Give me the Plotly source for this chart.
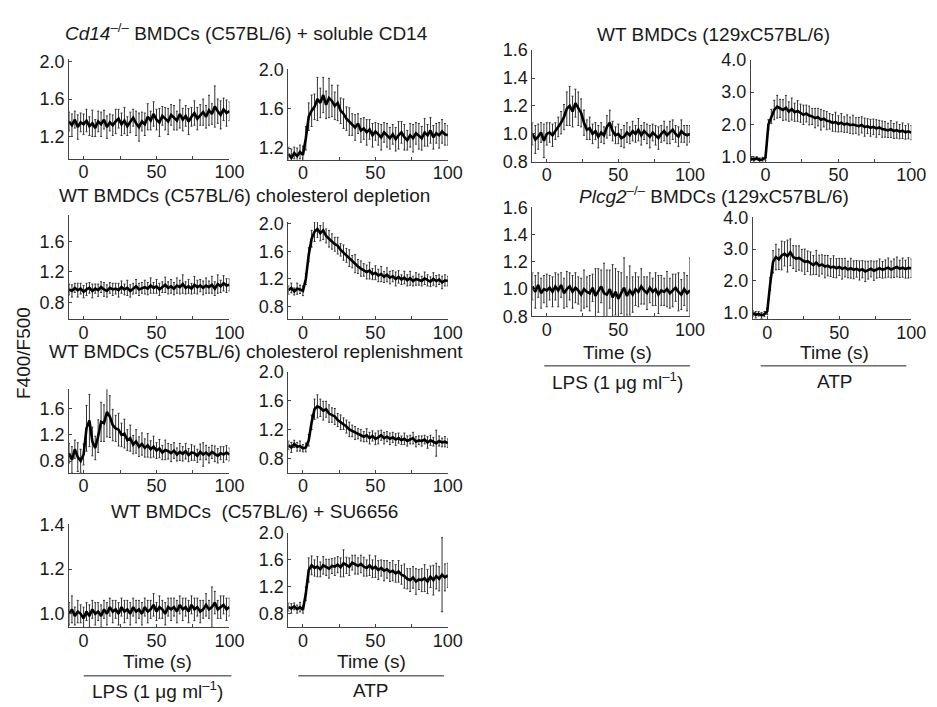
import plotly.graph_objects as go

W, H = 937, 707

# time axis (s)
time_s = list(range(-10, 101, 2))

# ---- mean F400/F500 traces ----
cd14_lps = [1.36,1.32,1.38,1.30,1.35,1.33,
            1.37,1.31,1.34,1.29,1.36,1.33,1.38,1.30,1.35,1.32,
            1.36,1.39,1.33,1.37,1.31,1.35,1.40,1.34,1.30,1.36,
            1.33,1.41,1.37,1.44,1.38,1.35,1.42,1.39,1.36,1.43,
            1.40,1.37,1.44,1.38,1.42,1.36,1.41,1.45,1.39,1.43,
            1.46,1.41,1.48,1.44,1.52,1.47,1.43,1.49,1.45,1.47]
cd14_lps_err = [0.10,0.12,0.09,0.13,0.10,0.11,
                0.12,0.10,0.14,0.09,0.11,0.13,0.10,0.12,0.09,0.11,
                0.13,0.10,0.12,0.14,0.10,0.11,0.09,0.13,0.15,0.10,
                0.12,0.14,0.10,0.13,0.11,0.15,0.10,0.12,0.14,0.11,
                0.13,0.10,0.15,0.12,0.11,0.14,0.10,0.13,0.12,0.11,
                0.14,0.12,0.16,0.11,0.22,0.13,0.15,0.12,0.14,0.10]

cd14_atp = [1.14,1.10,1.15,1.12,1.16,1.13,
            1.30,1.52,1.58,1.62,1.70,1.66,1.74,1.64,1.71,1.68,
            1.63,1.66,1.58,1.55,1.50,1.47,1.44,1.41,1.45,1.38,
            1.40,1.36,1.39,1.33,1.37,1.34,1.31,1.36,1.33,1.30,
            1.34,1.29,1.33,1.36,1.31,1.28,1.33,1.30,1.35,1.32,
            1.30,1.36,1.33,1.38,1.31,1.35,1.33,1.37,1.34,1.33]
cd14_atp_err = [0.07,0.09,0.06,0.08,0.07,0.09,
                0.12,0.14,0.16,0.13,0.22,0.15,0.18,0.14,0.20,0.16,
                0.14,0.18,0.13,0.15,0.12,0.14,0.11,0.13,0.10,0.12,
                0.11,0.13,0.10,0.12,0.09,0.11,0.13,0.10,0.12,0.11,
                0.10,0.12,0.14,0.11,0.13,0.10,0.12,0.14,0.11,0.13,
                0.12,0.14,0.11,0.13,0.12,0.10,0.13,0.12,0.11,0.10]

chold_lps = [0.97,0.95,0.99,0.96,0.98,0.94,
             0.97,0.99,0.95,0.98,0.96,1.00,0.97,0.95,0.99,0.97,
             0.98,0.96,1.00,0.97,0.99,0.95,0.98,1.01,0.97,0.99,
             1.00,0.98,1.02,0.99,1.01,0.97,1.00,1.03,0.99,1.01,
             0.98,1.02,1.00,1.04,0.99,1.01,0.98,1.03,1.00,1.02,
             0.99,1.02,1.00,1.03,0.98,1.04,1.01,1.05,1.02,1.03]
chold_lps_err = [0.07,0.08,0.06,0.09,0.07,0.08,
                 0.08,0.07,0.09,0.06,0.08,0.07,0.09,0.08,0.07,0.08,
                 0.07,0.09,0.08,0.07,0.10,0.08,0.07,0.09,0.08,0.07,
                 0.09,0.08,0.10,0.07,0.09,0.08,0.07,0.10,0.08,0.09,
                 0.08,0.10,0.09,0.12,0.08,0.09,0.07,0.11,0.09,0.08,
                 0.09,0.10,0.08,0.11,0.09,0.12,0.08,0.10,0.09,0.08]

chold_atp = [1.04,1.07,1.02,1.06,1.05,1.03,
             1.20,1.55,1.78,1.88,1.92,1.86,1.90,1.82,1.78,1.74,
             1.70,1.68,1.62,1.58,1.54,1.50,1.45,1.42,1.38,1.35,
             1.33,1.30,1.32,1.27,1.29,1.25,1.27,1.23,1.26,1.22,
             1.24,1.20,1.23,1.19,1.22,1.18,1.21,1.17,1.20,1.19,
             1.17,1.21,1.18,1.16,1.20,1.17,1.19,1.15,1.18,1.17]
chold_atp_err = [0.06,0.07,0.05,0.08,0.06,0.07,
                 0.08,0.10,0.12,0.14,0.12,0.11,0.13,0.10,0.12,0.11,
                 0.10,0.12,0.09,0.11,0.10,0.12,0.09,0.13,0.10,0.11,
                 0.09,0.10,0.12,0.08,0.10,0.09,0.11,0.08,0.10,0.09,
                 0.08,0.10,0.09,0.07,0.09,0.08,0.10,0.07,0.09,0.08,
                 0.07,0.09,0.08,0.07,0.09,0.08,0.07,0.09,0.08,0.07]

cholr_lps = [0.92,0.82,0.98,0.86,0.80,0.90,
             1.30,1.42,1.10,1.00,1.18,1.40,1.38,1.55,1.48,1.35,
             1.30,1.28,1.20,1.22,1.12,1.15,1.05,1.10,1.02,1.06,
             1.00,1.04,0.98,1.02,0.96,0.99,0.93,0.97,0.95,0.92,
             0.96,0.90,0.94,0.91,0.95,0.89,0.93,0.92,0.88,0.94,
             0.90,0.93,0.89,0.94,0.91,0.88,0.92,0.90,0.93,0.90]
cholr_lps_err = [0.15,0.20,0.14,0.22,0.18,0.16,
                 0.35,0.40,0.22,0.18,0.25,0.30,0.28,0.38,0.32,0.24,
                 0.20,0.25,0.18,0.22,0.16,0.20,0.14,0.18,0.15,0.17,
                 0.14,0.18,0.13,0.16,0.12,0.14,0.11,0.15,0.12,0.13,
                 0.12,0.10,0.13,0.11,0.12,0.10,0.12,0.11,0.10,0.12,
                 0.18,0.11,0.12,0.10,0.12,0.11,0.10,0.12,0.11,0.10]

cholr_atp = [0.98,0.95,1.00,0.96,0.97,0.94,
             0.95,1.05,1.30,1.48,1.52,1.50,1.46,1.48,1.42,1.40,
             1.38,1.33,1.30,1.28,1.24,1.20,1.18,1.15,1.14,1.12,
             1.10,1.12,1.08,1.11,1.07,1.09,1.12,1.08,1.10,1.07,
             1.09,1.06,1.08,1.05,1.07,1.04,1.06,1.08,1.03,1.05,
             1.04,1.06,1.02,1.05,1.03,1.01,1.04,1.02,1.03,1.01]
cholr_atp_err = [0.06,0.07,0.05,0.06,0.07,0.05,
                 0.06,0.08,0.10,0.14,0.16,0.12,0.13,0.11,0.12,0.10,
                 0.11,0.09,0.10,0.08,0.09,0.10,0.08,0.09,0.07,0.08,
                 0.07,0.09,0.08,0.07,0.08,0.09,0.07,0.08,0.07,0.08,
                 0.07,0.08,0.07,0.06,0.08,0.07,0.06,0.08,0.07,0.06,
                 0.07,0.06,0.08,0.07,0.06,0.18,0.07,0.06,0.07,0.06]

su_lps = [1.00,1.02,0.99,1.01,1.00,0.98,
          1.01,0.99,1.02,1.00,1.01,0.99,1.02,1.00,1.03,1.01,
          1.02,1.00,1.03,1.01,1.02,1.00,1.03,1.01,1.02,1.00,
          1.03,1.01,1.02,1.04,1.01,1.03,1.02,1.00,1.03,1.02,
          1.03,1.01,1.04,1.02,1.03,1.01,1.04,1.02,1.03,1.01,
          1.02,1.04,1.02,1.03,1.05,1.02,1.03,1.04,1.02,1.03]
su_lps_err = [0.05,0.06,0.04,0.05,0.04,0.05,
              0.04,0.05,0.04,0.05,0.04,0.05,0.04,0.05,0.04,0.05,
              0.04,0.05,0.04,0.05,0.04,0.05,0.04,0.05,0.04,0.05,
              0.04,0.05,0.04,0.05,0.04,0.05,0.04,0.05,0.04,0.05,
              0.04,0.05,0.04,0.05,0.04,0.05,0.04,0.05,0.04,0.05,
              0.04,0.05,0.04,0.09,0.05,0.04,0.05,0.04,0.05,0.04]

su_atp = [0.90,0.88,0.91,0.87,0.90,0.86,
          1.10,1.45,1.52,1.48,1.50,1.46,1.52,1.49,1.47,1.51,
          1.50,1.53,1.49,1.55,1.52,1.50,1.56,1.53,1.51,1.54,
          1.50,1.48,1.52,1.47,1.50,1.45,1.48,1.44,1.46,1.42,
          1.44,1.40,1.43,1.38,1.36,1.32,1.30,1.34,1.28,1.31,
          1.30,1.33,1.28,1.35,1.30,1.36,1.32,1.38,1.34,1.37]
su_atp_err = [0.06,0.07,0.05,0.06,0.07,0.05,
              0.10,0.18,0.14,0.12,0.15,0.11,0.13,0.12,0.14,0.11,
              0.13,0.12,0.14,0.20,0.12,0.13,0.11,0.14,0.12,0.13,
              0.14,0.12,0.15,0.13,0.16,0.14,0.12,0.15,0.13,0.14,
              0.15,0.13,0.16,0.14,0.18,0.15,0.17,0.16,0.19,0.15,
              0.17,0.20,0.18,0.16,0.22,0.19,0.18,0.55,0.20,0.18]

wt129_lps = [1.00,0.96,0.98,1.01,0.95,1.00,
             1.01,0.99,1.02,1.05,1.08,1.12,1.18,1.20,1.16,1.22,
             1.18,1.15,1.08,1.03,1.04,1.00,1.02,0.98,1.01,0.99,
             1.05,1.08,1.02,0.99,1.00,0.97,0.98,1.01,0.99,1.02,
             1.00,1.03,0.99,1.02,1.00,0.98,1.01,0.99,0.97,1.00,
             1.02,0.99,1.01,1.03,1.00,0.98,1.02,1.00,0.99,1.00]
wt129_lps_err = [0.08,0.10,0.09,0.07,0.12,0.08,
                 0.07,0.08,0.06,0.07,0.08,0.09,0.12,0.14,0.11,0.10,
                 0.12,0.10,0.09,0.07,0.08,0.07,0.06,0.08,0.07,0.06,
                 0.08,0.09,0.07,0.06,0.07,0.06,0.08,0.07,0.06,0.07,
                 0.06,0.08,0.07,0.06,0.07,0.08,0.06,0.07,0.08,0.06,
                 0.07,0.06,0.08,0.07,0.06,0.07,0.08,0.06,0.07,0.06]

wt129_atp = [0.95,0.92,0.96,0.90,0.93,0.98,
             2.00,2.25,2.45,2.55,2.50,2.45,2.52,2.40,2.48,2.38,
             2.42,2.35,2.30,2.34,2.28,2.25,2.20,2.23,2.15,2.18,
             2.12,2.10,2.05,2.08,2.02,2.06,2.00,2.03,1.98,2.00,
             1.97,1.95,1.99,1.92,1.95,1.90,1.93,1.88,1.91,1.86,
             1.85,1.82,1.86,1.80,1.83,1.78,1.81,1.76,1.79,1.75]
wt129_atp_err = [0.06,0.08,0.05,0.07,0.06,0.08,
                 0.15,0.22,0.30,0.35,0.28,0.32,0.38,0.30,0.34,0.28,
                 0.32,0.28,0.30,0.26,0.29,0.25,0.30,0.27,0.32,0.25,
                 0.28,0.24,0.26,0.30,0.25,0.28,0.24,0.27,0.25,0.29,
                 0.24,0.27,0.25,0.28,0.23,0.26,0.24,0.27,0.22,0.25,
                 0.24,0.22,0.26,0.23,0.25,0.22,0.24,0.21,0.23,0.22]

plcg2_lps = [1.02,0.98,1.03,0.97,1.00,0.99,
             1.01,0.98,1.02,0.99,1.03,0.97,1.00,1.02,0.98,1.01,
             0.99,0.96,1.00,0.98,0.97,1.01,0.95,0.99,1.02,0.97,
             0.96,1.00,0.94,0.98,0.93,0.97,1.01,0.95,0.99,0.96,
             1.00,0.98,1.02,0.99,0.97,1.01,0.98,1.00,0.96,0.99,
             0.98,1.00,0.97,0.99,1.01,0.98,0.96,1.00,0.97,0.99]
plcg2_lps_err = [0.10,0.12,0.09,0.11,0.10,0.12,
                 0.09,0.11,0.10,0.12,0.09,0.11,0.13,0.10,0.12,0.11,
                 0.10,0.12,0.14,0.11,0.13,0.10,0.20,0.16,0.12,0.22,
                 0.18,0.14,0.24,0.17,0.20,0.15,0.22,0.14,0.18,0.13,
                 0.12,0.11,0.13,0.10,0.12,0.11,0.10,0.12,0.14,0.11,
                 0.10,0.13,0.11,0.12,0.10,0.14,0.11,0.12,0.13,0.24]

plcg2_atp = [0.98,0.94,0.97,0.92,0.96,1.05,
             1.90,2.60,2.75,2.68,2.80,2.85,2.78,2.90,2.75,2.70,
             2.72,2.65,2.60,2.62,2.55,2.50,2.58,2.48,2.52,2.45,
             2.48,2.42,2.45,2.40,2.44,2.38,2.42,2.36,2.40,2.35,
             2.38,2.33,2.37,2.30,2.34,2.38,2.32,2.36,2.40,2.35,
             2.38,2.42,2.36,2.40,2.44,2.38,2.42,2.37,2.41,2.40]
plcg2_atp_err = [0.08,0.10,0.07,0.09,0.08,0.10,
                 0.20,0.35,0.40,0.32,0.45,0.38,0.50,0.42,0.36,0.40,
                 0.38,0.34,0.40,0.32,0.36,0.30,0.38,0.33,0.30,0.35,
                 0.32,0.28,0.34,0.30,0.27,0.32,0.29,0.26,0.31,0.28,
                 0.26,0.30,0.27,0.32,0.28,0.25,0.30,0.27,0.29,0.26,
                 0.28,0.30,0.26,0.29,0.31,0.27,0.30,0.28,0.32,0.29]

# ---- panel layout: (series, err, x0px, x1px, ytop px, ybottom px, yrange, yticks) ----
panels = [
    (cd14_lps, cd14_lps_err, 62, 225, 42, 145, [0.96, 2.03], [1.2, 1.6, 2.0]),
    (cd14_atp, cd14_atp_err, 285, 447, 52, 146, [1.08, 2.01], [1.2, 1.6, 2.0]),
    (chold_lps, chold_lps_err, 62, 225, 203, 310, [0.58, 1.94], [0.8, 1.2, 1.6]),
    (chold_atp, chold_atp_err, 285, 447, 210, 310, [0.62, 2.02], [0.8, 1.2, 1.6, 2.0]),
    (cholr_lps, cholr_lps_err, 62, 225, 382, 468, [0.62, 1.9], [0.8, 1.2, 1.6]),
    (cholr_atp, cholr_atp_err, 285, 447, 364, 468, [0.6, 2.0], [0.8, 1.2, 1.6, 2.0]),
    (su_lps, su_lps_err, 62, 225, 521, 627, [0.94, 1.4], [1.0, 1.2, 1.4]),
    (su_atp, su_atp_err, 285, 447, 530, 627, [0.6, 2.0], [0.8, 1.2, 1.6, 2.0]),
    (wt129_lps, wt129_lps_err, 533, 693, 33, 148, [0.8, 1.6], [0.8, 1.0, 1.2, 1.4, 1.6]),
    (wt129_atp, wt129_atp_err, 755, 918, 43, 148, [0.85, 4.0], [1.0, 2.0, 3.0, 4.0]),
    (plcg2_lps, plcg2_lps_err, 533, 693, 195, 307, [0.8, 1.6], [0.8, 1.0, 1.2, 1.4, 1.6]),
    (plcg2_atp, plcg2_atp_err, 757, 918, 205, 310, [0.8, 4.0], [1.0, 2.0, 3.0, 4.0]),
]

def px(x):
    return x / W

def py(y):
    return 1 - y / H

FONT = "Liberation Sans, Arial, sans-serif"
TICK = 18
TXT = 19
fig = go.Figure()
layout = dict(width=W, height=H, margin=dict(l=0, r=0, t=0, b=0),
              paper_bgcolor="white", plot_bgcolor="white", showlegend=False,
              font=dict(family=FONT, size=TICK, color="#1a1a1a"))

for i, (ys, es, x0, x1, yt, yb, yr, yt_vals) in enumerate(panels):
    n = "" if i == 0 else str(i + 1)
    fig.add_trace(go.Scatter(
        x=time_s, y=ys, mode="lines",
        line=dict(color="black", width=2.6),
        error_y=dict(type="data", array=es, visible=True, color="#333333",
                     thickness=1, width=1),
        xaxis="x" + n, yaxis="y" + n))
    ytick_text = [f"{v:.1f}" for v in yt_vals]
    layout["xaxis" + n] = dict(
        domain=[px(x0), px(x1)], range=[-10, 100], anchor="y" + n,
        tickvals=[0, 50, 100], ticks="inside", ticklen=3, tickwidth=1,
        tickcolor="#444", showline=True, linecolor="#444", linewidth=1,
        showgrid=False, zeroline=False, tickfont=dict(size=TICK),
        ticklabelstandoff=-3,
        minor=dict(tickvals=[25, 75], ticks="inside", ticklen=3, tickcolor="#444"))
    layout["yaxis" + n] = dict(
        domain=[py(yb), py(yt)], range=yr, anchor="x" + n,
        tickvals=yt_vals, ticktext=ytick_text, ticks="inside", ticklen=3,
        tickwidth=1, tickcolor="#444", showline=True, linecolor="#444",
        linewidth=1, showgrid=False, zeroline=False, tickfont=dict(size=TICK))

fig.update_layout(**layout)

def ann(text, xpx, ypx, size=TXT, angle=0):
    fig.add_annotation(text=text, x=px(xpx), y=py(ypx), xref="paper",
                       yref="paper", showarrow=False, xanchor="center",
                       yanchor="middle", textangle=angle,
                       font=dict(family=FONT, size=size, color="#1a1a1a"))

ann("<i>Cd14</i><sup>–/–</sup> BMDCs (C57BL/6) + soluble CD14", 242, 14)
ann("WT BMDCs (C57BL/6) cholesterol depletion", 240, 183)
ann("WT BMDCs (C57BL/6) cholesterol replenishment", 252, 343)
ann("WT BMDCs  (C57BL/6) + SU6656", 251, 508)
ann("WT BMDCs (129xC57BL/6)", 717, 17)
ann("<i>Plcg2</i><sup>–/–</sup> BMDCs (129xC57BL/6)", 717, 182)
ann("F400/F500", 15, 345, angle=-90)

for cx, ty, label in [(152, 662, "LPS (1 μg ml<sup>–1</sup>)"), (369, 662, "ATP"),
                      (619, 344, "LPS (1 μg ml<sup>–1</sup>)"), (840, 344, "ATP")]:
    ann("Time (s)", cx, ty)
    ann(label, cx, ty + 30)

for xa, xb, yy in [(77, 227, 677), (295, 443, 677), (545, 693, 358), (765, 913, 358)]:
    fig.add_shape(type="line", xref="paper", yref="paper",
                  x0=px(xa), x1=px(xb), y0=py(yy), y1=py(yy),
                  line=dict(color="#222", width=1))

fig.write_html("out.html")
